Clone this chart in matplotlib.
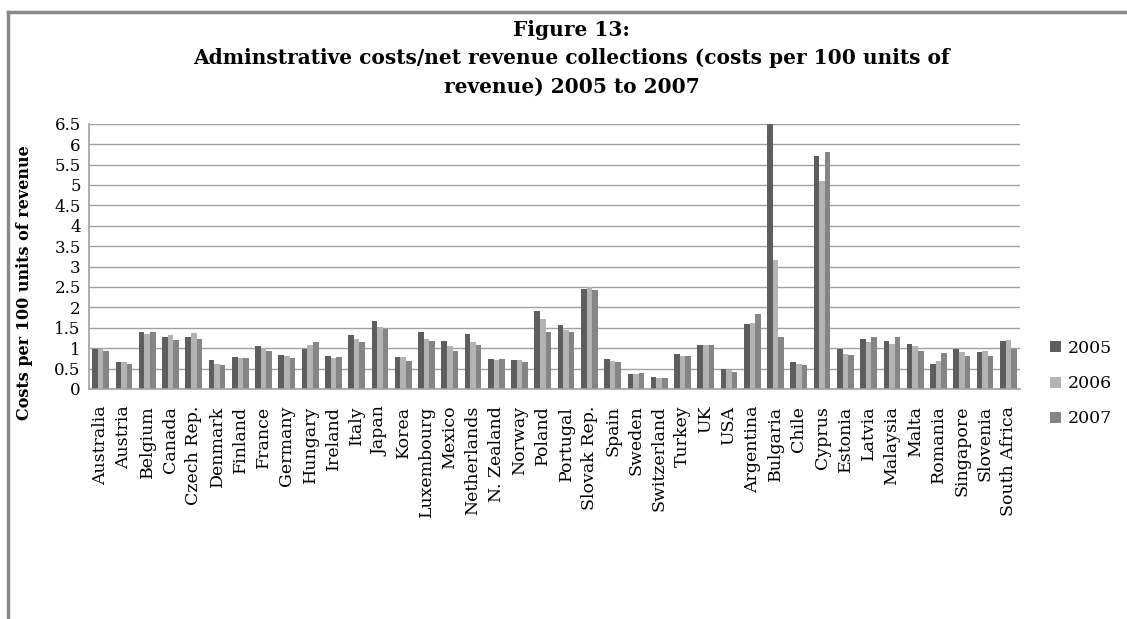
import numpy as np
import matplotlib.pyplot as plt
from matplotlib.lines import Line2D

plt.rcParams['font.family'] = ['DejaVu Serif']

countries = ["Australia", "Austria", "Belgium", "Canada", "Czech Rep.", "Denmark",
             "Finland", "France", "Germany", "Hungary", "Ireland", "Italy", "Japan",
             "Korea", "Luxembourg", "Mexico", "Netherlands", "N. Zealand", "Norway",
             "Poland", "Portugal", "Slovak Rep.", "Spain", "Sweden", "Switzerland",
             "Turkey", "UK", "USA", "Argentina", "Bulgaria", "Chile", "Cyprus",
             "Estonia", "Latvia", "Malaysia", "Malta", "Romania", "Singapore",
             "Slovenia", "South Africa"]

y2005 = [0.99, 0.65, 1.39, 1.28, 1.28, 0.72, 0.78, 1.05, 0.83, 0.99, 0.81, 1.33, 1.67,
         0.78, 1.40, 1.18, 1.35, 0.74, 0.71, 1.92, 1.58, 2.45, 0.74, 0.37, 0.29, 0.85,
         1.09, 0.50, 1.59, 6.5, 0.66, 5.70, 0.99, 1.23, 1.17, 1.10, 0.61, 0.99, 0.91, 1.17]
y2006 = [0.99, 0.65, 1.34, 1.33, 1.36, 0.61, 0.75, 1.00, 0.81, 1.09, 0.75, 1.23, 1.53,
         0.78, 1.23, 1.05, 1.15, 0.71, 0.71, 1.72, 1.44, 2.50, 0.68, 0.37, 0.26, 0.82,
         1.09, 0.46, 1.62, 3.17, 0.61, 5.09, 0.86, 1.16, 1.10, 1.05, 0.69, 0.91, 0.94, 1.20]
y2007 = [0.92, 0.61, 1.39, 1.19, 1.23, 0.58, 0.75, 0.94, 0.75, 1.14, 0.78, 1.14, 1.48,
         0.69, 1.18, 0.93, 1.09, 0.74, 0.65, 1.40, 1.40, 2.42, 0.65, 0.40, 0.26, 0.82,
         1.09, 0.42, 1.84, 1.27, 0.58, 5.82, 0.83, 1.27, 1.27, 0.94, 0.88, 0.80, 0.80, 0.99]

years = ["2005", "2006", "2007"]
colors = ["#5e5e5e", "#b3b3b3", "#858585"]

fig = plt.figure(figsize=(11.27, 6.19), dpi=100)
ax = fig.add_axes([0.079, 0.3716, 0.826, 0.4284])

x = np.arange(len(countries))
w = 0.24
for i, (vals, lab, c) in enumerate(zip([y2005, y2006, y2007], years, colors)):
    ax.bar(x + (i - 1) * w, vals, w, color=c, label=lab, zorder=2)

ax.set_xlim(-0.5, len(countries) - 0.5)
ax.set_ylim(0, 6.5)
ax.set_yticks(np.arange(0, 6.51, 0.5))
ax.set_yticklabels(["0", "0.5", "1", "1.5", "2", "2.5", "3", "3.5", "4", "4.5",
                    "5", "5.5", "6", "6.5"], fontsize=12)
ax.set_xticks(x)
ax.set_xticklabels(countries, rotation=90, fontsize=12.5, va="top")
ax.tick_params(axis="y", length=0, pad=6)
ax.tick_params(axis="x", length=0, pad=12)
ax.yaxis.grid(True, color="#a0a0a0", linewidth=1, zorder=0)
for s in ["top", "right"]:
    ax.spines[s].set_visible(False)
for s in ["left", "bottom"]:
    ax.spines[s].set_color("#a0a0a0")
    ax.spines[s].set_linewidth(1.2)

ax.set_ylabel("Costs per 100 units of revenue", fontsize=11.5, fontweight="bold")
ax.yaxis.set_label_coords(-0.06, 0.40)

fig.text(0.507, 0.967, "Figure 13:\nAdminstrative costs/net revenue collections (costs per 100 units of\nrevenue) 2005 to 2007",
         ha="center", va="top", fontsize=14.5, fontweight="bold", linespacing=1.5)

leg = ax.legend(loc="center left", bbox_to_anchor=(1.016, 0.02), frameon=False,
                fontsize=12.5, handlelength=0.6, handleheight=0.6, labelspacing=1.05,
                handletextpad=0.4)

# chart frame
fig.add_artist(Line2D([0.007, 0.007], [0, 0.981], color="#8a8a8a", linewidth=2.5))
fig.add_artist(Line2D([0.007, 1.0], [0.981, 0.981], color="#8a8a8a", linewidth=2.5))

fig.savefig("out.png", dpi=100)
